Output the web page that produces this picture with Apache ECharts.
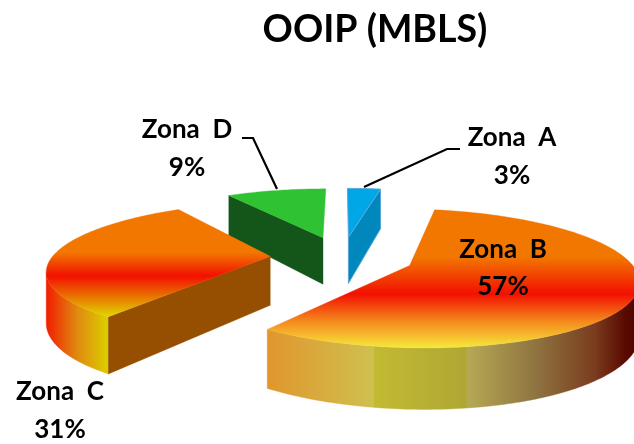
<!DOCTYPE html>
<html><head><meta charset="utf-8">
<style>html,body{margin:0;padding:0;background:#fff}#c{width:634px;height:444px}</style>
<script src="https://cdn.jsdelivr.net/npm/echarts@6/dist/echarts.min.js"></script>
</head><body><div id="c"></div>
<script>
const categories = ['Zona  A', 'Zona  B', 'Zona  C', 'Zona  D'];
const values = [3, 57, 31, 9];
const titleText = 'OOIP (MBLS)';

const FONT = 'Lato,"Open Sans",sans-serif';
const view = {cx: 342, cy: 257, R: 218, tilt: 64, persp: 0.18, H: 49, explode: 0.33};
const paintOrder = [1, 3, 2, 0]; // z-rank for A, B, C, D
const grad = (x0, y0, x1, y1, stops) => new echarts.graphic.LinearGradient(x0, y0, x1, y1,
  stops.map(s => ({offset: s[0], color: s[1]})));
const styles = [
  {top: '#00a7e6', wall: '#0088bd', edge: '#58a8dc', outer: '#0088bd'},
  {top: grad(0,0,0,1,[[0,'#f27700'],[.34,'#f27700'],[.61,'#f21000'],[.8,'#f4861c'],[1,'#f6e83c']]),
   wall: '#964f00', edge: null,
   outer: grad(0,0,1,0,[[0,'#e0962c'],[.286,'#cfc050'],[.287,'#c3ba32'],[.535,'#aea734'],[.536,'#b5a955'],[.72,'#8f7440'],[.88,'#7a3c1e'],[.96,'#5a0a00'],[1,'#4a0500']])},
  {top: grad(0,0,0,1,[[0,'#f27700'],[.4,'#f27700'],[.62,'#f21000'],[1,'#e0d800']]),
   wall: '#964f00', edge: null,
   outer: grad(0,0,1,0,[[0,'#f21c00'],[.5,'#e08a10'],[1,'#dcd000']])},
  {top: '#2fc233', wall: '#14561a', edge: null, outer: '#14561a'}
];
const labelLayout = [
  {x: 512, y1: 138, y2: 176},
  {x: 503, y1: 250, y2: 287},
  {x: 60, y1: 392, y2: 430},
  {x: 187, y1: 130, y2: 168}
];
const leaders = [
  [[364, 187], [447, 149], [460, 149]],
  null,
  null,
  [[242, 138], [253, 138], [277, 189]]
];

const total = values.reduce((a, b) => a + b, 0);
const rad = d => d * Math.PI / 180;
function project(u, v, z) {
  const s = 1 / (1 - view.persp * v);
  return [view.cx + view.R * u * s, view.cy + (view.tilt * v - view.H * z) * s];
}

function renderItem(params, api) {
  const i = params.dataIndex;
  let a0 = 0;
  for (let k = 0; k < i; k++) a0 += values[k] / total * 360;
  const a1 = a0 + api.value(0) / total * 360;
  const mid = rad((a0 + a1) / 2);
  const u0 = view.explode * Math.sin(mid), v0 = -view.explode * Math.cos(mid);
  const pt = (deg, z) => project(u0 + Math.sin(rad(deg)), v0 - Math.cos(rad(deg)), z);
  const apex = z => project(u0, v0, z);
  const st = styles[i];
  const z2 = paintOrder[i] * 10;
  const children = [];
  const poly = (points, fill, stroke, zo) => children.push({
    type: 'polygon', shape: {points}, z2: z2 + zo,
    style: {fill, stroke: stroke || fill, lineWidth: stroke ? 1 : 0.4}
  });
  const arc = (d0, d1, z) => {
    const out = [], n = Math.max(2, Math.ceil((d1 - d0) / 1));
    for (let k = 0; k <= n; k++) out.push(pt(d0 + (d1 - d0) * k / n, z));
    return out;
  };
  // silhouette of the rim: angles of extreme screen x on the near side
  let loA = 90, hiA = 270, xMax = -Infinity, xMin = Infinity;
  for (let d = 0; d <= 360; d++) {
    const x = pt(d, 0)[0];
    if (x > xMax) { xMax = x; loA = d; }
    if (x < xMin) { xMin = x; hiA = d; }
  }
  const r0 = Math.max(a0, loA), r1 = Math.min(a1, hiA);
  if (r1 > r0) poly(arc(r0, r1, 0).concat(arc(r0, r1, -1).reverse()), st.outer, null, 0);
  // radial walls facing the viewer
  [[a0, -Math.sin(rad(a0))], [a1, Math.sin(rad(a1))]].forEach(w => {
    if (w[1] > 1e-6) poly([apex(0), pt(w[0], 0), pt(w[0], -1), apex(-1)], st.wall, st.edge, 1);
  });
  // top surface
  poly([apex(0)].concat(arc(a0, a1, 0)), st.top, st.edge, 2);
  // leader
  if (leaders[i]) children.push({
    type: 'polyline', shape: {points: leaders[i]}, z2: 100,
    style: {fill: null, stroke: '#000', lineWidth: 2.2}
  });
  // label
  const L = labelLayout[i];
  const text = (t, y) => children.push({
    type: 'text', z2: 110,
    style: {text: t, x: L.x, y, align: 'center', verticalAlign: 'middle',
      font: 'bold 26px ' + FONT, fill: '#000'}
  });
  text(categories[i], L.y1);
  text(Math.round(api.value(0) / total * 100) + '%', L.y2);
  return {type: 'group', children};
}

const chart = echarts.init(document.getElementById('c'), null, {renderer: 'canvas'});
chart.setOption({
  animation: false,
  backgroundColor: '#fff',
  title: {text: titleText, left: 370, top: 6, textAlign: 'center',
    textStyle: {fontFamily: FONT, fontWeight: 'bold', fontSize: 37.5, color: '#000'}},
  series: [{
    type: 'custom', coordinateSystem: 'none', renderItem,
    data: values.map(v => [v]), silent: true
  }]
});
</script></body></html>
